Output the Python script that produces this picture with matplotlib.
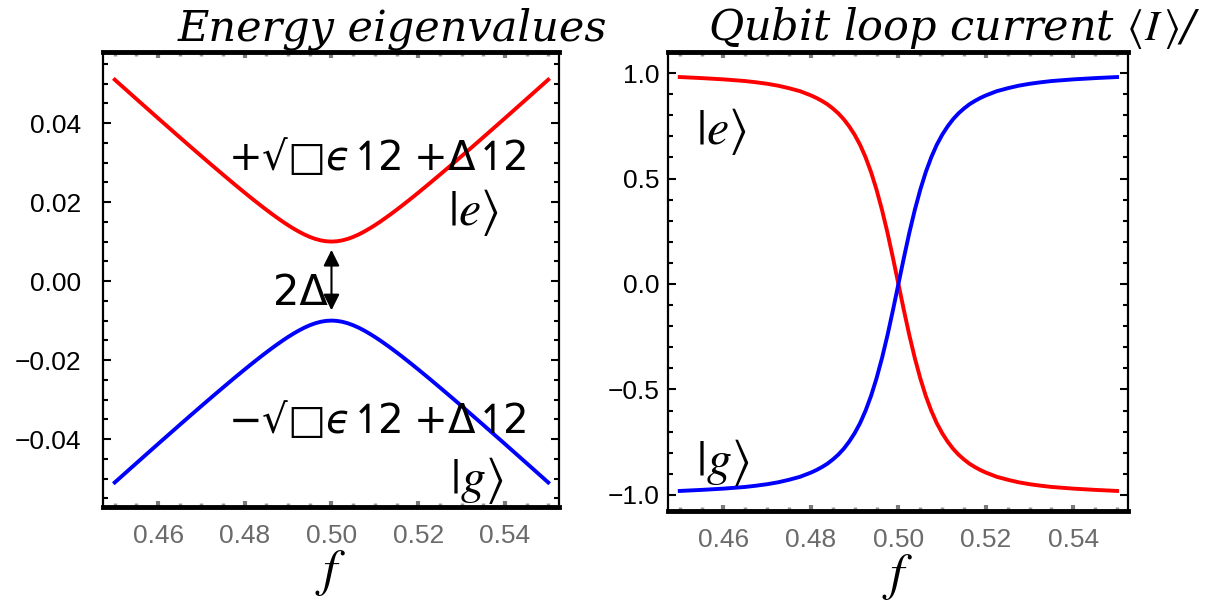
import matplotlib.pyplot as plt
from matplotlib.ticker import MultipleLocator

# flux bias f
f_vals = [0.45, 0.455, 0.46, 0.465, 0.4675, 0.47, 0.4725, 0.475, 0.4775, 0.48,
          0.48125, 0.4825, 0.48375, 0.485, 0.48625, 0.4875, 0.48875, 0.49, 0.49125, 0.4925,
          0.49375, 0.495, 0.49625, 0.4975, 0.49875, 0.5,
          0.50125, 0.5025, 0.50375, 0.505, 0.50625, 0.5075, 0.50875, 0.51, 0.51125, 0.5125,
          0.51375, 0.515, 0.51625, 0.5175, 0.51875, 0.52, 0.5225, 0.525, 0.5275, 0.53,
          0.5325, 0.535, 0.54, 0.545, 0.55]

# energy eigenvalues
e_excited = [0.05099, 0.04610, 0.04123, 0.03640, 0.03400, 0.03162, 0.02926, 0.02693, 0.02462, 0.02236,
             0.02125, 0.02016, 0.01908, 0.01803, 0.01700, 0.01601, 0.01505, 0.01414, 0.01329, 0.01250,
             0.01179, 0.01118, 0.01068, 0.01031, 0.01008, 0.01000,
             0.01008, 0.01031, 0.01068, 0.01118, 0.01179, 0.01250, 0.01329, 0.01414, 0.01505, 0.01601,
             0.01700, 0.01803, 0.01908, 0.02016, 0.02125, 0.02236, 0.02462, 0.02693, 0.02926, 0.03162,
             0.03400, 0.03640, 0.04123, 0.04610, 0.05099]
e_ground = [-0.05099, -0.04610, -0.04123, -0.03640, -0.03400, -0.03162, -0.02926, -0.02693, -0.02462, -0.02236,
            -0.02125, -0.02016, -0.01908, -0.01803, -0.01700, -0.01601, -0.01505, -0.01414, -0.01329, -0.01250,
            -0.01179, -0.01118, -0.01068, -0.01031, -0.01008, -0.01000,
            -0.01008, -0.01031, -0.01068, -0.01118, -0.01179, -0.01250, -0.01329, -0.01414, -0.01505, -0.01601,
            -0.01700, -0.01803, -0.01908, -0.02016, -0.02125, -0.02236, -0.02462, -0.02693, -0.02926, -0.03162,
            -0.03400, -0.03640, -0.04123, -0.04610, -0.05099]

# loop current
i_excited = [0.981, 0.976, 0.970, 0.962, 0.956, 0.949, 0.940, 0.928, 0.914, 0.894,
             0.882, 0.868, 0.852, 0.832, 0.809, 0.781, 0.747, 0.707, 0.659, 0.600,
             0.530, 0.447, 0.351, 0.243, 0.124, 0.0,
             -0.124, -0.243, -0.351, -0.447, -0.530, -0.600, -0.659, -0.707, -0.747, -0.781,
             -0.809, -0.832, -0.852, -0.868, -0.882, -0.894, -0.914, -0.928, -0.940, -0.949,
             -0.956, -0.962, -0.970, -0.976, -0.981]
i_ground = [-0.981, -0.976, -0.970, -0.962, -0.956, -0.949, -0.940, -0.928, -0.914, -0.894,
            -0.882, -0.868, -0.852, -0.832, -0.809, -0.781, -0.747, -0.707, -0.659, -0.600,
            -0.530, -0.447, -0.351, -0.243, -0.124, 0.0,
            0.124, 0.243, 0.351, 0.447, 0.530, 0.600, 0.659, 0.707, 0.747, 0.781,
            0.809, 0.832, 0.852, 0.868, 0.882, 0.894, 0.914, 0.928, 0.940, 0.949,
            0.956, 0.962, 0.970, 0.976, 0.981]

x_ticks = [0.46, 0.48, 0.50, 0.52, 0.54]
x_ticklabels = ["0.46", "0.48", "0.50", "0.52", "0.54"]
e_ticks = [-0.04, -0.02, 0.0, 0.02, 0.04]
e_ticklabels = ["\u22120.04", "\u22120.02", "0.00", "0.02", "0.04"]
i_ticks = [-1.0, -0.5, 0.0, 0.5, 1.0]
i_ticklabels = ["\u22121.0", "\u22120.5", "0.0", "0.5", "1.0"]

plt.rcParams['mathtext.fontset'] = 'stix'

fig = plt.figure(figsize=(12.18, 6.04), dpi=100)
ax1 = fig.add_axes([0.0846, 0.1606, 0.3744, 0.7533])
ax2 = fig.add_axes([0.5484, 0.154, 0.3777, 0.76])


def style(ax, yticks, ylabels, yminor, ypad):
    ax.set_xlim(0.4473, 0.5525)
    ax.set_xticks(x_ticks)
    ax.set_xticklabels(x_ticklabels, family='Liberation Sans', fontsize=19, color='#6b6b6b')
    ax.set_yticks(yticks)
    ax.set_yticklabels(ylabels, family='Liberation Sans', fontsize=19, color='black')
    ax.xaxis.set_minor_locator(MultipleLocator(0.005))
    ax.yaxis.set_minor_locator(MultipleLocator(yminor))
    ax.tick_params(axis='x', which='major', direction='in', top=True, bottom=True,
                   length=4, width=3, color='#7a7a7a', pad=12)
    ax.tick_params(axis='x', which='minor', direction='in', top=True, bottom=True,
                   length=3, width=2.5, color='#9a9a9a')
    ax.tick_params(axis='y', which='major', direction='in', left=True, right=True,
                   length=6, width=1.5, color='black', pad=ypad)
    ax.tick_params(axis='y', which='minor', direction='in', left=True, right=True,
                   length=3.5, width=1.5, color='black')
    for s in ['top', 'bottom']:
        ax.spines[s].set_linewidth(3.5)
    for s in ['left', 'right']:
        ax.spines[s].set_linewidth(1.6)


# left: energy eigenvalues
ax1.plot(f_vals, e_excited, color='#ff0000', lw=2.8)
ax1.plot(f_vals, e_ground, color='#0000ff', lw=2.8)
ax1.set_ylim(-0.0572, 0.058)
style(ax1, e_ticks, e_ticklabels, 0.005, 16)

ax1.annotate('', xy=(0.5, 0.0079), xytext=(0.5, -0.0074),
             arrowprops=dict(arrowstyle='<|-|>', color='black', lw=1.5,
                             mutation_scale=24, shrinkA=0, shrinkB=0))

eq_plus = '$+\u221a\u25a1\u03f5\u21bf\\!2\\;{+}\\Delta\u21bf\\!2$'
eq_minus = '$-\u221a\u25a1\u03f5\u21bf\\!2\\;{+}\\Delta\u21bf\\!2$'
fig.text(228 / 1218, 1 - 170 / 604, eq_plus, fontsize=29, math_fontfamily='dejavusans',
         ha='left', va='baseline')
fig.text(228 / 1218, 1 - 433 / 604, eq_minus, fontsize=29, math_fontfamily='dejavusans',
         ha='left', va='baseline')
fig.text(273 / 1218, 1 - 305 / 604, '2\u0394', family='DejaVu Sans', fontsize=30,
         ha='left', va='baseline')
fig.text(448 / 1218, 1 - 212 / 604, r'$|e\rangle$', fontsize=36, ha='left', va='center')
fig.text(450 / 1218, 1 - 480 / 604, r'$|g\rangle$', fontsize=36, ha='left', va='center')

# right: loop current
ax2.plot(f_vals, i_excited, color='#ff0000', lw=2.8)
ax2.plot(f_vals, i_ground, color='#0000ff', lw=2.8)
ax2.set_ylim(-1.076, 1.10)
style(ax2, i_ticks, i_ticklabels, 0.1, 6)

fig.text(696 / 1218, 1 - 131 / 604, r'$|e\rangle$', fontsize=36, ha='left', va='center')
fig.text(696 / 1218, 1 - 463 / 604, r'$|g\rangle$', fontsize=36, ha='left', va='center')

# titles and axis labels
title_font = ['DejaVu Serif', 'DejaVu Sans']
fig.text(178 / 1218, 1 - 40 / 604, 'Energy eigenvalues', family=title_font,
         style='italic', fontsize=31, ha='left', va='baseline')
fig.text(708 / 1218, 1 - 40 / 604, r'Qubit loop current $\langle I\,\rangle$/',
         family=title_font, style='italic', fontsize=31, ha='left', va='baseline')

for ax in (ax1, ax2):
    ax.set_xlabel(r'$f$', fontsize=37, labelpad=0)

fig.savefig('out.png', dpi=100)
